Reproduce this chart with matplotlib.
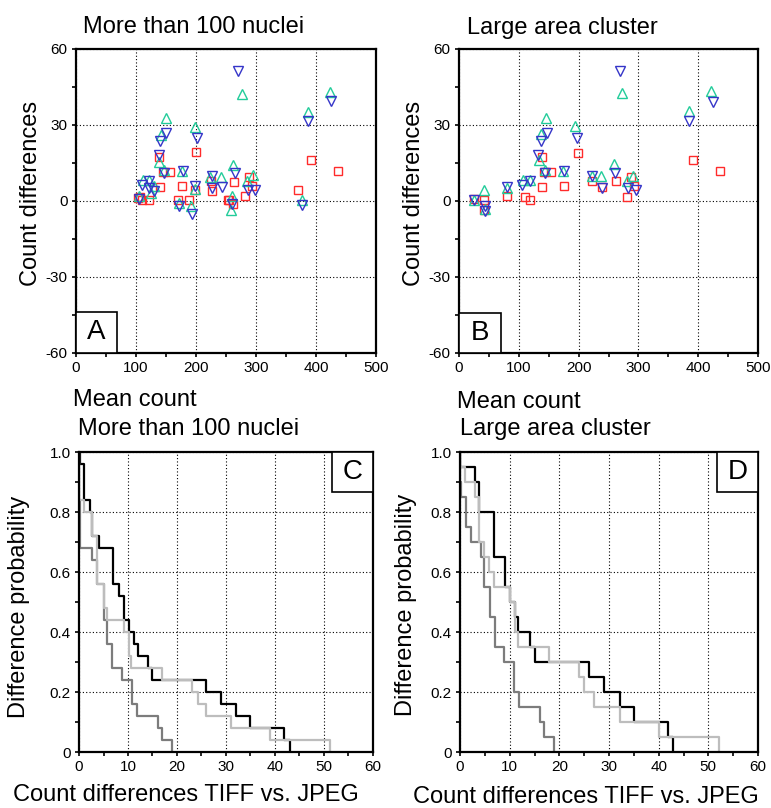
import matplotlib
matplotlib.use("Agg")
import matplotlib.pyplot as plt
from matplotlib.patches import Rectangle
import numpy as np

plt.rcParams['font.family'] = ['Liberation Sans', 'DejaVu Sans']
plt.rcParams['axes.unicode_minus'] = False

# scatter data, panel A (more than 100 nuclei), 25 images
a_red_x = [138.9, 144.4, 156.6, 140.0, 176.6, 200.0, 107.2, 122.2, 169.4, 188.9, 198.3, 225.0, 226.1,
           262.8, 253.9, 261.1, 282.2, 288.9, 292.8, 370.5, 391.7, 436.0, 103.0, 110.0, 255.0]
a_red_y = [17.2, 11.4, 11.4, 5.5, 6.1, 19.2, 1.6, 0.3, 0.5, 0.5, 4.4, 7.7, 3.8,
           7.5, 0.5, -1.2, 1.8, 9.6, 6.1, 4.4, 16.1, 11.9, 1.0, 0.2, 0.3]
a_grn_x = [150.0, 198.3, 141.6, 138.9, 147.2, 176.6, 111.1, 121.1, 125.0, 105.5, 172.2, 191.7, 198.9,
           241.7, 223.3, 262.2, 260.0, 258.3, 294.4, 284.4, 376.7, 276.0, 387.0, 424.0, 130.0]
a_grn_y = [32.7, 29.4, 25.9, 15.5, 12.2, 11.8, 8.3, 8.3, 3.1, 2.1, -0.8, -1.8, 4.7,
           9.6, 9.6, 14.4, 2.1, -3.4, 10.3, 7.7, 0.5, 42.3, 35.3, 43.1, 6.0]
a_blu_x = [150.0, 140.5, 201.1, 137.8, 147.2, 177.8, 109.4, 122.2, 122.2, 105.5, 172.2, 193.3, 198.3,
           226.7, 226.7, 242.8, 265.0, 259.4, 286.1, 298.9, 376.7, 269.5, 425.0, 387.0, 130.0]
a_blu_y = [26.8, 23.7, 24.8, 18.1, 11.2, 11.8, 6.4, 7.7, 5.1, 0.8, -2.1, -5.3, 6.0,
           9.9, 5.1, 5.5, 10.9, -1.2, 4.4, 4.2, -1.4, 51.2, 39.4, 31.7, 4.0]

# scatter data, panel B (large area cluster), 20 images
b_red_x = [24.3, 41.0, 41.6, 80.7, 109.7, 119.2, 138.7, 138.7, 142.1, 154.4, 175.6, 199.0, 222.5,
           239.8, 262.1, 281.7, 288.4, 292.3, 391.6, 436.3]
b_red_y = [0.8, 0.5, -3.4, 1.8, 1.6, 0.3, 17.2, 5.5, 11.3, 11.3, 6.1, 19.1, 7.7,
           5.5, 7.7, 1.6, 9.4, 6.1, 16.1, 11.9]
b_grn_x = [41.0, 24.3, 42.7, 80.7, 106.9, 118.1, 144.9, 136.5, 133.7, 143.2, 173.9, 194.6, 222.5,
           238.1, 259.3, 281.1, 291.2, 272.7, 384.0, 421.0]
b_grn_y = [4.4, 0.5, -3.1, 5.1, 8.3, 8.3, 32.7, 26.5, 16.1, 12.2, 11.8, 29.5, 9.9,
           9.9, 14.6, 7.7, 9.9, 42.8, 35.5, 43.3]
b_blu_x = [24.3, 42.7, 42.7, 80.7, 105.8, 118.1, 147.1, 136.5, 132.0, 144.3, 175.6, 197.4, 222.5,
           239.8, 261.6, 282.8, 295.6, 268.5, 425.3, 384.0]
b_blu_y = [0.3, -1.8, -4.0, 5.5, 6.4, 7.7, 26.8, 23.7, 18.1, 11.2, 11.8, 24.8, 9.9,
           5.1, 10.9, 5.1, 4.2, 51.2, 39.2, 31.7]

# absolute count differences for the difference-probability curves
c_black = [0.2, 1.0, 1.0, 1.0, 2.2, 2.7, 2.7, 4.0, 7.0, 7.0, 7.0, 8.2, 9.2, 9.2, 10.2, 11.2, 12.0,
           14.0, 15.0, 25.9, 28.9, 32.1, 34.9, 41.8, 43.0]
c_light = [0, 0, 0, 0, 1.0, 2.7, 2.7, 3.7, 3.7, 3.7, 3.7, 5.1, 5.1, 5.8, 9.2, 10.2, 10.2, 10.7,
           17.0, 23.1, 24.3, 26.0, 31.0, 39.0, 51.2]
c_dark = [0, 0, 0, 0, 0.3, 0.3, 0.3, 0.3, 2.7, 3.7, 3.7, 5.1, 5.1, 5.1, 5.8, 5.8, 6.8, 6.8, 8.8,
          10.9, 10.9, 11.9, 16.1, 17.0, 18.9]
d_black = [0, 3.0, 3.9, 3.9, 6.9, 6.9, 6.9, 9.0, 9.0, 10.1, 11.1, 11.7, 14.1, 15.1, 26.0, 29.0,
           32.2, 35.1, 41.9, 42.9]
d_light = [0, 1.0, 3.0, 3.9, 3.9, 3.9, 4.9, 5.9, 6.9, 10.1, 11.1, 11.1, 11.7, 18.0, 24.0, 25.0,
           27.0, 32.2, 40.1, 52.1]
d_dark = [0, 0, 0.2, 1.2, 1.2, 2.3, 4.2, 4.9, 4.9, 6.0, 6.0, 7.0, 7.0, 8.9, 10.9, 10.9, 11.9,
          16.1, 17.0, 19.0]

RED = '#ff2b2b'
GRN = '#22cc9a'
BLU = '#3535c8'

W, H = 771, 808
fig = plt.figure(figsize=(W / 100, H / 100), dpi=100)


def px_axes(x0, y0, x1, y1):
    return fig.add_axes([x0 / W, 1 - y1 / H, (x1 - x0) / W, (y1 - y0) / H])


def ftext(x, y, s, **kw):
    fig.text(x / W, 1 - y / H, s, **kw)


def style(ax):
    ax.grid(True, which='major', color='black', linestyle=(0, (1, 2)), linewidth=0.8)
    ax.set_axisbelow(True)
    for sp in ax.spines.values():
        sp.set_linewidth(1.6)
    ax.tick_params(which='both', direction='out', length=3, width=1.2, labelsize=11, pad=3)


def letter(ax, s, x0, y0, w, h):
    ax.add_patch(Rectangle((x0, y0), w, h, transform=ax.transAxes, facecolor='white',
                           edgecolor='black', linewidth=1.2, zorder=5, clip_on=False))
    ax.text(x0 + w / 2, y0 + h / 2, s, transform=ax.transAxes, fontsize=20,
            ha='center', va='center', zorder=6)


def scatter_panel(ax, rx, ry, gx, gy, bx, by):
    ax.plot(rx, ry, ls='none', marker='s', ms=6.3, mfc='none', mec=RED, mew=1.0)
    ax.plot(gx, gy, ls='none', marker='^', ms=7.5, mfc='none', mec=GRN, mew=1.0)
    ax.plot(bx, by, ls='none', marker='v', ms=7.5, mfc='none', mec=BLU, mew=1.0)
    ax.set_xlim(0, 500)
    ax.set_ylim(-60, 60)
    ax.set_xticks([0, 100, 200, 300, 400, 500])
    ax.set_xticks([50, 150, 250, 350, 450], minor=True)
    ax.set_yticks([-60, -30, 0, 30, 60])
    ax.set_yticklabels(['-60', '-30', '0', '30', '60'])
    ax.set_yticks([-45, -15, 15, 45], minor=True)
    style(ax)


def prob_panel(ax, black, light, dark):
    for vals, col in [(black, '#000000'), (dark, '#7c7c7c'), (light, '#bdbdbd')]:
        n = len(vals)
        xs = np.concatenate([[0], np.sort(vals)])
        ys = 1 - np.arange(n + 1) / n
        ax.plot(xs, ys, drawstyle='steps-post', color=col, lw=1.6)
    ax.set_xlim(0, 60)
    ax.set_ylim(0, 1)
    ax.set_xticks([0, 10, 20, 30, 40, 50, 60])
    ax.set_xticks([5, 15, 25, 35, 45, 55], minor=True)
    ax.set_yticks([0, 0.2, 0.4, 0.6, 0.8, 1.0])
    ax.set_yticklabels(['0', '0.2', '0.4', '0.6', '0.8', '1.0'])
    ax.set_yticks([0.1, 0.3, 0.5, 0.7, 0.9], minor=True)
    style(ax)


axA = px_axes(76, 49, 376, 353)
axB = px_axes(459, 49, 758, 353)
axC = px_axes(79, 452, 373, 752)
axD = px_axes(460, 452, 758, 752)

scatter_panel(axA, a_red_x, a_red_y, a_grn_x, a_grn_y, a_blu_x, a_blu_y)
scatter_panel(axB, b_red_x, b_red_y, b_grn_x, b_grn_y, b_blu_x, b_blu_y)
prob_panel(axC, c_black, c_light, c_dark)
prob_panel(axD, d_black, d_light, d_dark)

letter(axA, 'A', 0, 0, 0.137, 0.135)
letter(axB, 'B', 0, 0, 0.142, 0.132)
letter(axC, 'C', 0.86, 0.867, 0.14, 0.133)
letter(axD, 'D', 0.861, 0.867, 0.139, 0.133)

fs = 17
ftext(83, 33, 'More than 100 nuclei', fontsize=fs, ha='left', va='baseline')
ftext(467, 34, 'Large area cluster', fontsize=fs, ha='left', va='baseline')
ftext(73, 406, 'Mean count', fontsize=fs, ha='left', va='baseline')
ftext(457, 408, 'Mean count', fontsize=fs, ha='left', va='baseline')
ftext(31, 193, 'Count differences', fontsize=fs, rotation=90, ha='center', va='center')
ftext(414, 193, 'Count differences', fontsize=fs, rotation=90, ha='center', va='center')
ftext(78, 435, 'More than 100 nuclei', fontsize=fs, ha='left', va='baseline')
ftext(460, 435, 'Large area cluster', fontsize=fs, ha='left', va='baseline')
ftext(186, 801, 'Count differences TIFF vs. JPEG', fontsize=fs, ha='center', va='baseline')
ftext(586, 803, 'Count differences TIFF vs. JPEG', fontsize=fs, ha='center', va='baseline')
ftext(19, 607, 'Difference probability', fontsize=fs, rotation=90, ha='center', va='center')
ftext(406, 605, 'Difference probability', fontsize=fs, rotation=90, ha='center', va='center')

fig.savefig('out.png', dpi=100)
